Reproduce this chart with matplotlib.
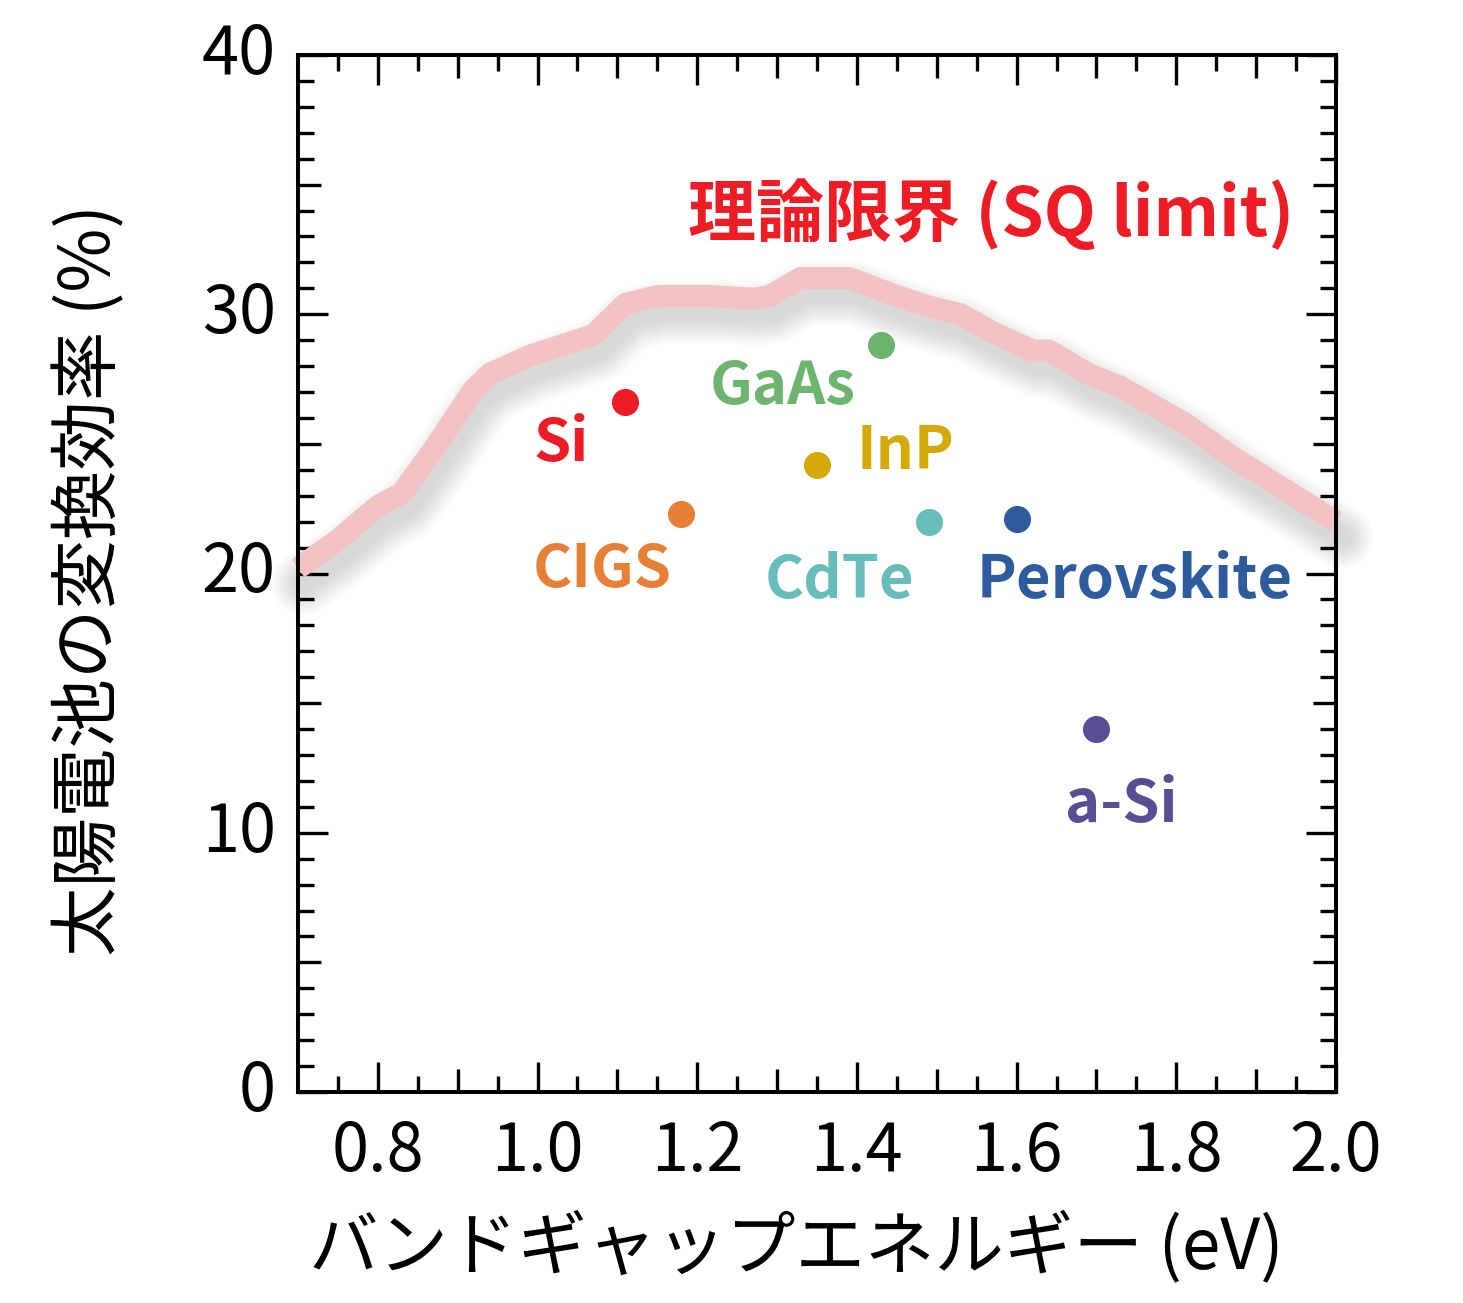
import numpy as np
import matplotlib.pyplot as plt
import matplotlib.transforms as mtransforms

plt.rcParams['font.family'] = ['Noto Sans CJK JP', 'DejaVu Sans']

# Shockley-Queisser limit
sq_gap = [0.70, 0.75, 0.80, 0.83, 0.87, 0.92, 0.94, 0.99, 1.07, 1.11, 1.15, 1.18,
          1.22, 1.27, 1.29, 1.33, 1.36, 1.39, 1.45, 1.49, 1.53, 1.57, 1.62, 1.64,
          1.69, 1.73, 1.81, 1.87, 2.00]
sq_eff = [20.2, 21.3, 22.6, 23.1, 24.8, 27.1, 27.7, 28.4, 29.2, 30.4, 30.7, 30.7,
          30.7, 30.6, 30.7, 31.4, 31.4, 31.4, 30.7, 30.3, 30.0, 29.3, 28.6, 28.6,
          27.7, 27.2, 25.8, 24.5, 22.0]

cells = ['Si', 'CIGS', 'InP', 'GaAs', 'CdTe', 'Perovskite', 'a-Si']
cell_gap = [1.11, 1.18, 1.35, 1.43, 1.49, 1.60, 1.70]
cell_eff = [26.6, 22.3, 24.2, 28.8, 22.0, 22.1, 14.0]
cell_colors = ['#ee1c25', '#e77f37', '#d4a90a', '#6db56f', '#67bdb9', '#2e5b9d', '#5b4d94']

# label offset from the dot (points), label anchored at centre / baseline
label_offsets = {'Si': (-46, -42), 'CIGS': (-57, -53), 'InP': (64, -3),
                 'GaAs': (-71, -42), 'CdTe': (-64, -55), 'Perovskite': (85, -57),
                 'a-Si': (18, -67)}

fig = plt.figure(figsize=(14.63, 13.03), dpi=100)
ax = fig.add_axes([0.2037, 0.1619, 0.7095, 0.7959])

# soft drop shadow under the SQ curve
shadow_tr = mtransforms.offset_copy(ax.transData, fig=fig, x=4, y=-11, units='points')
for w in np.linspace(14, 46, 10):
    ax.plot(sq_gap, sq_eff, color='0.45', lw=w, alpha=0.028, transform=shadow_tr,
            solid_capstyle='round', solid_joinstyle='round', clip_on=False, zorder=1)
ax.plot(sq_gap, sq_eff, color='#f3c2c2', lw=15.8, solid_capstyle='butt',
        solid_joinstyle='round', clip_on=False, zorder=2)

ax.text(1.568, 33.0, '理論限界 (SQ limit)', color='#ee1c25', fontsize=49,
        fontweight='bold', ha='center', va='baseline')

for name, gx, ey, c in zip(cells, cell_gap, cell_eff, cell_colors):
    ax.plot(gx, ey, 'o', ms=19.5, color=c, mec='none', zorder=3)
    ax.annotate(name, (gx, ey), xytext=label_offsets[name], textcoords='offset points',
                color=c, fontsize=43, fontweight='bold', ha='center', va='baseline')

ax.set_xlim(0.7, 2.0)
ax.set_ylim(0, 40)

xt = np.round(np.arange(0.8, 2.01, 0.1), 1)
ax.set_xticks(xt, [f'{v:.1f}' if round(v * 10) % 2 == 0 else '' for v in xt])
ax.set_xticks(np.round(np.arange(0.75, 2.0, 0.1), 2), minor=True)
yt = np.arange(0, 41, 5)
ax.set_yticks(yt, [str(v) if v % 10 == 0 else '' for v in yt])
ax.set_yticks([v for v in range(41) if v % 5], minor=True)

ax.tick_params(which='both', direction='in', top=True, right=True, width=2.4,
               labelsize=48)
ax.tick_params(which='major', length=21.5)
ax.tick_params(which='minor', length=11.5)
ax.tick_params(axis='x', pad=19)
ax.tick_params(axis='y', pad=16)
for lab in ax.get_yticklabels():
    lab.set_va('center')

for tick, v in zip(ax.xaxis.get_major_ticks(), xt):
    if round(v * 10) % 2:
        tick.tick1line.set_markersize(16.5)
        tick.tick2line.set_markersize(16.5)
for tick, v in zip(ax.yaxis.get_major_ticks(), yt):
    if v % 10:
        tick.tick1line.set_markersize(16.5)
        tick.tick2line.set_markersize(16.5)

for s in ax.spines.values():
    s.set_linewidth(2.9)

ax.set_xlabel('バンドギャップエネルギー (eV)', fontsize=50, va='center')
ax.xaxis.set_label_coords(0.48, -0.15)
ax.set_ylabel('太陽電池の変換効率 (%)', fontsize=50, va='center')
ax.yaxis.set_label_coords(-0.2, 0.494)

fig.savefig('out.png', dpi=100)
